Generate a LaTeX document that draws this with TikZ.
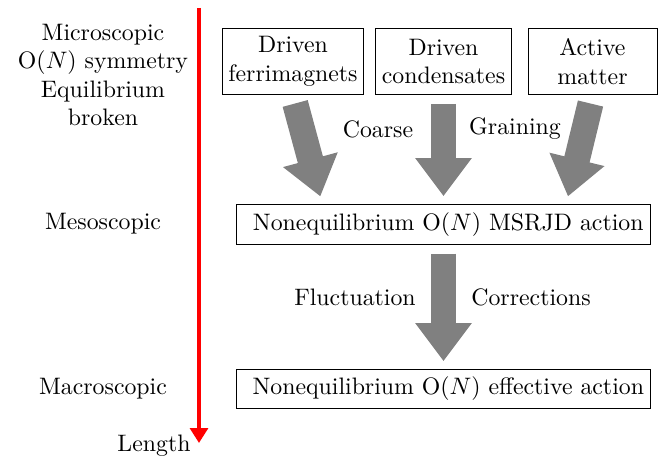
\documentclass[tikz,border=0pt]{standalone}
\usepackage{tikz}
\usetikzlibrary{arrows.meta,calc,positioning}

\begin{document}
\begin{tikzpicture}[x=0.42pt,y=-0.42pt,
    box/.style={draw, fill=white, align=center, inner sep=2pt},
    scalelabel/.style={align=center},
    bigarrow/.style={draw=gray, line width=10.9pt,
      -{Triangle[width=22.7pt,length=16pt]}, shorten <=3.5pt, shorten >=3.5pt},
    lengtharrow/.style={draw=red, line width=1.5pt,
      -{Triangle[width=7.5pt,length=6.3pt]}}]
  \useasboundingbox (0,0) rectangle (668,457);

  % length axis
  \coordinate (lt) at (199,8);
  \coordinate (lb) at (199,443);
  \draw[lengtharrow] (lt) -- (lb);
  \node (len) [left=0pt of lb, yshift=-1pt] {Length};

  % scales
  \node (micro) [scalelabel] at (103,75) {Microscopic\\$\mathrm{O}(N)$ symmetry\\Equilibrium\\broken};
  \node (meso) [scalelabel] at (103,224) {Mesoscopic};
  \node (macro) [scalelabel] at (103,389) {Macroscopic};

  % systems
  \node (fm) [box, minimum width=59.6pt, minimum height=28.1pt] at (293,61.5) {Driven\\ferrimagnets};
  \node (cd) [box, minimum width=57.5pt, minimum height=28.1pt] at (443.5,61.5) {Driven\\condensates};
  \node (am) [box, minimum width=54.2pt, minimum height=28.1pt] at (592.5,61.5) {Active\\matter};

  % actions
  \node (msr) [box, minimum width=173.5pt, minimum height=16.4pt] at (443.5,224.5) {\hspace{4pt}Nonequilibrium $\mathrm{O}(N)$ MSRJD action};
  \node (eff) [box, minimum width=173.5pt, minimum height=16pt] at (443.5,389) {\hspace{4pt}Nonequilibrium $\mathrm{O}(N)$ effective action};

  % coarse graining
  \draw[bigarrow] (fm.south) -- ($(msr.north)+(-121,0)$);
  \draw[bigarrow] (cd.south) -- (msr.north);
  \draw[bigarrow] (am.south) -- ($(msr.north)+(122.5,0)$);
  \node (coarse) at (378,129) {Coarse};
  \node (grain) at (515,129) {Graining};

  % fluctuation corrections
  \draw[bigarrow, shorten <=3.8pt] (msr.south) -- (eff.north);
  \node (fluct) at (355,297) {Fluctuation};
  \node (corr) at (531,297) {Corrections};
\end{tikzpicture}
\end{document}
